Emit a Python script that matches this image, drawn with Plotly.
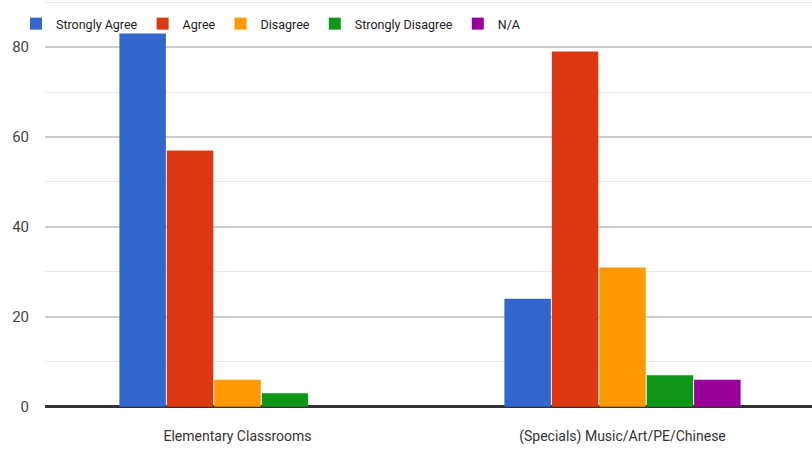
import plotly.graph_objects as go

categories = ["Elementary Classrooms", "(Specials) Music/Art/PE/Chinese"]
series_names = ["Strongly Agree", "Agree", "Disagree", "Strongly Disagree", "N/A"]
series_colors = ["#3366cc", "#dc3912", "#ff9900", "#109618", "#990099"]
strongly_agree = [83, 24]
agree = [57, 79]
disagree = [6, 31]
strongly_disagree = [3, 7]
na_values = [0, 6]
y_ticks = [0, 20, 40, 60, 80]

series_values = [strongly_agree, agree, disagree, strongly_disagree, na_values]

FONT = "Roboto, Arial, sans-serif"

fig = go.Figure()
for name, color, vals in zip(series_names, series_colors, series_values):
    fig.add_trace(go.Bar(
        x=list(range(len(categories))),
        y=vals,
        name=name,
        marker=dict(color=color, line=dict(width=0)),
    ))

fig.update_layout(
    width=812,
    height=453,
    margin=dict(l=45, r=0, t=0, b=44),
    paper_bgcolor="white",
    plot_bgcolor="white",
    barmode="group",
    bargap=0.384,
    bargroupgap=0.02,
    font=dict(family=FONT, color="#444"),
    showlegend=True,
    legend=dict(
        orientation="h",
        x=-0.0496, xanchor="left",
        y=1.0001, yanchor="top",
        bgcolor="rgba(0,0,0,0)",
        bordercolor="rgba(0,0,0,0)",
        borderwidth=9,
        font=dict(size=12.5, color="#222", family=FONT),
        traceorder="normal",
    ),
    xaxis=dict(
        tickmode="array",
        tickvals=list(range(len(categories))),
        ticktext=categories,
        range=[-0.5, -0.5 + 767 / 385],
        showgrid=False,
        zeroline=False,
        showline=False,
        ticks="outside",
        ticklen=14,
        tickcolor="rgba(0,0,0,0)",
        tickfont=dict(size=14, color="#333", family=FONT),
        automargin=False,
    ),
    yaxis=dict(
        range=[-0.5, 90.47],
        tickmode="array",
        tickvals=y_ticks,
        ticktext=[str(v) for v in y_ticks],
        showgrid=True,
        gridcolor="#cccccc",
        gridwidth=2,
        minor=dict(dtick=10, tick0=0, showgrid=True, gridcolor="#e8e8e8", gridwidth=1.3),
        zeroline=True,
        zerolinecolor="#333333",
        zerolinewidth=2.5,
        showline=False,
        ticks="outside",
        ticklen=12,
        tickcolor="rgba(0,0,0,0)",
        tickfont=dict(size=15, color="#444", family=FONT),
        automargin=False,
    ),
)

fig.write_html(
    "out.html",
    config={"displayModeBar": False},
    post_script="document.body.style.margin='0';document.body.style.overflow='hidden';",
)
